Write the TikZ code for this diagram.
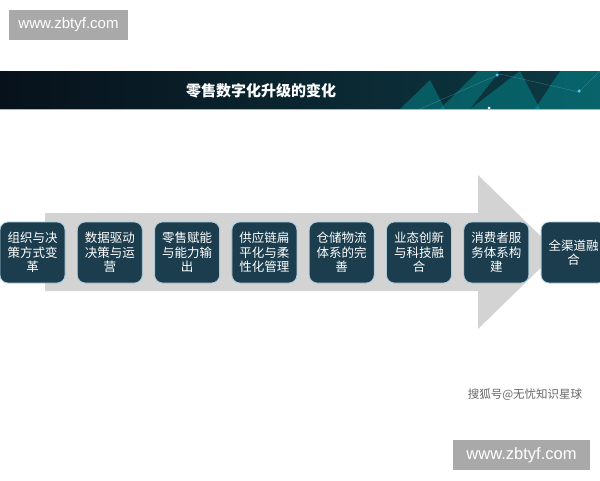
\documentclass[tikz,border=0pt]{standalone}
\usepackage{fontspec}
\setmainfont{Liberation Sans}
\newfontfamily\cjk{Noto Sans CJK SC}
\usetikzlibrary{positioning}
\definecolor{boxfill}{HTML}{1B3D4D}
\definecolor{boxline}{HTML}{A9CBDA}
\definecolor{arrowgray}{HTML}{D3D3D3}
\definecolor{markgray}{HTML}{A9A9A9}
\definecolor{bannerdark}{HTML}{07111B}
\definecolor{bannerteal}{HTML}{0D3A44}
\tikzset{
    stage/.style={rectangle,rounded corners=8pt,draw=boxline,line width=0.8pt,fill=boxfill,
        minimum width=65pt,minimum height=61pt,text width=54pt,align=center,inner sep=0pt,
        text=white,font=\cjk\fontsize{12.5}{14.5}\selectfont},
    watermark/.style={rectangle,fill=markgray,text=white,inner sep=0pt},
    glass/.style={fill=teal!60!cyan,fill opacity=0.35},
    spark/.style={circle,fill=cyan!70!white,inner sep=0pt,minimum size=3.5pt}
}
\begin{document}
\begin{tikzpicture}[x=1pt,y=-1pt]

                \useasboundingbox (0,0) rectangle (600,480);

                % banner
                \shade[left color=bannerdark,right color=bannerteal] (0,71) rectangle (600,109);
                \fill[glass] (440,109) -- (478,71) -- (500,71) -- (470,109) -- cycle;
                \fill[glass] (470,109) -- (520,71) -- (540,109) -- cycle;
                \fill[glass] (535,109) -- (560,71) -- (600,71) -- (600,109) -- cycle;
                \fill[glass] (400,109) -- (430,80) -- (445,109) -- cycle;
                \draw[cyan!50,opacity=0.4,line width=0.3pt] (420,109) -- (500,74) -- (579,92) -- (600,71);
                \node[spark] (spark 1) at (497,75) {};
                \node[spark] (spark 2) at (579,91) {};
                \node[circle,fill=white,inner sep=0pt,minimum size=3pt] (spark 3) at (489,108) {};
                \draw[gray!60,line width=0.8pt] (0,109) -- (600,109);
                \node (title) at (261,91) [text=white,font=\cjk\bfseries\fontsize{15}{17}\selectfont] {零售数字化升级的变化};

                % big arrow
                \fill[arrowgray] (45,213) -- (478,213) -- (478,175) -- (557,252)
                    -- (478,329) -- (478,291) -- (45,291) -- cycle;

                % stages
                \node[stage] (stage 1) at (32.5,252.5)          {组织与决\\策方式变\\革};
                \node[stage] (stage 2) [right=11.5pt of stage 1] {数据驱动\\决策与运\\营};
                \node[stage] (stage 3) [right=11.5pt of stage 2] {零售赋能\\与能力输\\出};
                \node[stage] (stage 4) [right=11.5pt of stage 3] {供应链扁\\平化与柔\\性化管理};
                \node[stage] (stage 5) [right=11.5pt of stage 4] {仓储物流\\体系的完\\善};
                \node[stage] (stage 6) [right=11.5pt of stage 5] {业态创新\\与科技融\\合};
                \node[stage] (stage 7) [right=11.5pt of stage 6] {消费者服\\务体系构\\建};
                \node[stage] (stage 8) [right=11.5pt of stage 7] {全渠道融\\合};

                % marks
                \node[watermark,minimum width=119pt,minimum height=30pt,font=\fontsize{15}{17}\selectfont]
                    (mark top) at (68.5,25) {www.zbtyf.com};
                \node[watermark,minimum width=137pt,minimum height=30pt,font=\fontsize{16.5}{18}\selectfont]
                    (mark bottom) at (521.5,455) {www.zbtyf.com};
                \node (source) at (525,395) [text=gray!80!black,font=\cjk\fontsize{11.5}{13}\selectfont] {搜狐号@无忧知识星球};

            \end{tikzpicture}
\end{document}
